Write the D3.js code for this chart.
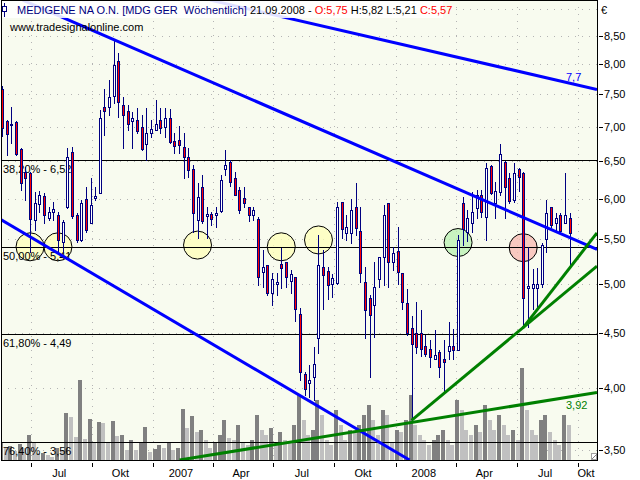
<!DOCTYPE html>
<html><head><meta charset="utf-8">
<script src="https://cdn.jsdelivr.net/npm/d3@7"></script>
<style>
body{margin:0;background:#fff}
svg{display:block}
text{font-family:"Liberation Sans",Arial,sans-serif;font-size:11px}
</style>
</head><body>
<svg id="c" width="640" height="480"></svg>
<script>
// ---------------- DATA (weekly candles, first week 19.05.2006) ----------------
const firstWeek = [2006, 4, 19];
const open  = [7.59,7.08,7.02,7.07,6.67,6.35,6.34,5.73,5.94,6.03,5.75,5.83,5.79,5.47,5.89,6.63,5.79,5.49,5.99,5.69,
               6.01,6.07,7.30,7.30,7.47,8.06,7.33,7.24,7.08,7.10,6.99,6.74,6.90,6.95,7.10,6.99,7.13,6.79,6.80,6.70,
               6.56,6.39,5.73,6.15,5.78,5.80,5.79,5.84,6.39,6.49,6.27,6.11,6.01,5.89,5.79,5.74,5.13,5.20,4.90,5.00,
               5.21,5.24,5.02,5.07,4.68,4.12,4.04,4.09,4.45,5.18,5.14,5.00,5.00,5.96,5.57,5.57,5.89,5.60,5.02,4.85,
               4.77,5.05,5.29,5.94,5.24,5.36,5.12,4.80,4.55,4.50,4.50,4.37,4.35,4.25,4.32,4.25,4.32,4.37,4.34,5.94,
               5.58,5.69,5.89,6.05,5.77,6.43,5.94,6.08,6.49,6.27,5.98,6.39,6.34,4.95,4.96,4.96,4.99,5.50,5.89,5.69,
               5.79,5.69,5.75];
const high  = [7.64,7.10,7.30,7.08,6.69,6.42,6.35,6.08,6.10,6.07,5.89,5.96,5.83,5.73,6.69,6.70,5.82,5.98,6.15,6.27,
               6.15,7.25,7.59,7.73,8.43,8.19,7.46,7.33,7.22,7.28,7.18,7.28,7.10,7.41,7.28,7.28,7.27,6.90,7.01,6.90,
               6.69,6.45,6.20,6.31,5.89,5.83,5.89,6.31,6.66,6.52,6.35,6.15,6.15,5.89,5.89,5.77,5.37,5.20,5.11,5.11,
               5.40,5.24,5.15,5.07,4.74,4.14,4.20,4.36,5.55,5.37,5.18,5.10,5.95,5.96,5.79,5.99,6.20,5.89,5.18,4.88,
               5.24,5.29,5.92,5.94,5.41,5.64,5.12,4.94,4.66,4.81,4.72,4.48,4.43,4.53,4.34,4.43,4.60,4.54,5.55,6.02,
               5.85,6.08,6.11,6.11,6.48,6.45,6.22,6.74,6.50,6.34,6.48,6.40,6.35,5.41,5.16,5.17,5.45,5.98,5.89,5.82,
               5.82,6.34,5.82];
const low   = [6.86,6.59,6.76,6.59,6.11,5.98,5.35,5.61,5.83,5.69,5.73,5.73,5.35,5.35,5.88,5.76,5.47,5.48,5.59,5.69,
               5.98,6.07,6.88,7.18,7.36,7.15,6.69,6.95,6.69,6.90,6.66,6.52,6.85,6.95,6.90,6.85,6.76,6.61,6.61,6.27,
               6.28,5.59,5.51,5.69,5.51,5.67,5.65,5.83,6.31,6.16,6.05,5.82,5.89,5.72,5.73,4.99,4.96,4.88,4.78,4.88,
               4.95,4.96,4.90,4.61,4.07,3.94,3.92,3.90,4.31,4.73,4.84,4.86,5.00,5.51,5.49,5.45,5.55,5.02,4.45,4.09,
               4.46,4.96,4.99,4.96,5.15,5.00,4.73,4.48,3.73,4.31,4.28,4.28,4.18,4.25,4.09,3.96,4.25,4.25,4.34,5.43,
               5.48,5.59,5.75,5.77,5.49,6.06,5.75,6.05,5.75,5.94,5.96,6.10,4.55,4.56,4.73,4.73,4.96,5.35,5.65,5.59,
               5.57,5.69,5.21];
const close = [6.98,6.88,7.04,6.60,6.20,6.27,5.74,5.94,6.05,5.79,5.83,5.87,5.49,5.71,6.56,5.78,5.49,5.94,5.61,5.92,
               6.03,7.13,7.24,7.46,7.99,7.38,7.18,7.04,7.13,6.93,6.67,6.90,6.96,7.04,6.98,7.13,6.77,6.72,6.73,6.56,
               6.38,5.82,6.02,5.72,5.80,5.74,5.82,6.24,6.45,6.22,6.05,5.85,5.94,5.79,5.85,5.07,5.18,4.90,5.05,5.02,
               5.16,5.07,5.10,4.73,4.13,3.99,4.07,4.21,5.20,5.09,4.99,5.06,5.89,5.62,5.64,5.85,5.63,5.12,4.73,4.68,
               4.96,5.29,5.79,5.24,5.34,5.12,4.81,4.50,4.40,4.37,4.35,4.30,4.28,4.29,4.18,4.22,4.37,4.33,5.49,5.62,
               5.75,5.83,6.05,5.83,6.41,6.07,6.10,6.60,6.15,5.97,6.34,6.28,4.85,4.97,5.00,5.00,5.43,5.82,5.67,5.75,
               5.59,5.79,5.57];
const volume = [18,12,14,9,16,12,25,17,7,7,5,3,12,10,47,43,23,80,21,41,
                17,38,37,17,39,24,25,10,20,10,18,33,8,11,15,12,18,10,12,51,
                32,44,28,30,20,12,18,25,40,22,20,35,18,15,20,45,30,25,32,15,
                28,20,18,35,65,40,25,30,60,45,20,15,50,35,20,30,28,35,45,55,
                40,25,50,45,18,30,28,40,65,35,25,20,15,20,25,30,20,15,60,50,
                30,25,35,28,55,40,30,45,35,25,30,20,92,50,30,25,40,45,28,20,
                15,45,35];

const priceTicks = [3.5,4,4.5,5,5.5,6,6.5,7,7.5,8,8.5];
const gridPrices = [3.5,4,4.5,5,5.5,6,6.5,7,7.5,8,8.5,9];
const fibPct   = ["38,20%","50,00%","61,80%","76,40%"];
const fibValue = [6.52,5.41,4.49,3.56];
const quarterStarts = [[2006,6,1],[2006,9,1],[2007,0,1],[2007,3,1],[2007,6,1],[2007,9,1],[2008,0,1],[2008,3,1],[2008,6,1],[2008,9,1],[2009,0,1]];
const quarterLabels = ["Jul","Okt","2007","Apr","Jul","Okt","2008","Apr","Jul","Okt"];

// trend lines: [startDate, startPrice, endDate, endPrice]
const blueLines = [
  [[2007,2,28],9.18,[2008,9,30],7.58],
  [[2006,5,19],9.18,[2008,9,30],5.38],
  [[2006,4,16],5.74,[2008,0,22],3.426]
];
const greenLines = [
  [[2007,1,10],3.426,[2008,9,30],3.959],
  [[2008,0,25],3.73,[2008,9,30],5.19],
  [[2008,6,11],4.55,[2008,9,30],5.573]
];
const lineLabels = [{t:"7,7", c:"#0000ff", p:7.7, dy:-1}, {t:"3,92", c:"#008000", p:3.92, dy:12}];
// marker circles: candle index, price, kind
const circleIdx   = [6,12,42,60,68,98,112];
const circlePrice = [5.41,5.41,5.43,5.41,5.49,5.46,5.40];
const circleKind  = ["y","y","y","y","y","g","r"];

const header = {name:"MEDIGENE NA O.N. [MDG GER\u00a0 Wöchentlich]", date:"21.09.2008", o:"5,75", h:"5,82", l:"5,21", c:"5,57"};

// ---------------- DRAW ----------------
const svg = d3.select("#c");
const L = 1, R = 597, T = 0, B = 460;
const toDate = a => new Date(a[0], a[1], a[2]);
const x = d3.scaleTime().domain([new Date(2006,6,1), new Date(2008,9,1)]).range([30.7, 577.7]);
const y = d3.scaleLog().domain([3.5, 8.5]).range([450, 36]);
const vy = d3.scaleLinear().domain([0, 100]).range([B, B-100]);
const n = open.length;
const wk = toDate(firstWeek);
const dates = d3.range(n).map(i => d3.timeDay.offset(wk, 7*i));
const cx = i => Math.round(x(dates[i]));
const fmt = v => d3.format(".2f")(v).replace(".", ",");

svg.append("rect").attr("width",640).attr("height",480).attr("fill","#fff");
svg.append("defs").append("clipPath").attr("id","pc")
  .append("rect").attr("x",L+1).attr("y",T+1).attr("width",R-L-1).attr("height",B-T-1);
svg.append("rect").attr("x",L).attr("y",T).attr("width",R-L).attr("height",B-T).attr("fill","#f8fbef");

const plot = svg.append("g").attr("clip-path","url(#pc)");

// grid
plot.selectAll("line.hg").data(gridPrices).join("line")
  .attr("x1",L).attr("x2",R).attr("y1",d=>Math.round(y(d))+0.5).attr("y2",d=>Math.round(y(d))+0.5)
  .attr("stroke","#b4b4b4").attr("stroke-dasharray","1,6");
plot.selectAll("line.vg").data(quarterStarts.slice(0,10)).join("line")
  .attr("x1",d=>Math.round(x(toDate(d)))+0.5).attr("x2",d=>Math.round(x(toDate(d)))+0.5)
  .attr("y1",T).attr("y2",B).attr("stroke","#b4b4b4").attr("stroke-dasharray","1,6");

// volume
plot.selectAll("rect.vol").data(d3.range(n)).join("rect")
  .attr("x",i=>cx(i)-3).attr("width",4)
  .attr("y",i=>vy(volume[i])).attr("height",i=>B-vy(volume[i]))
  .attr("fill",i=> (i>0 && volume[i] < volume[i-1]) ? "#c0c0c0" : "#808080")
  .attr("shape-rendering","crispEdges");

// circles
const cFill = {y:"#ffffb8", g:"#b8f0b0", r:"#f8b8b0"};
plot.selectAll("circle.m").data(d3.range(circleIdx.length)).join("circle")
  .attr("cx",k=>x(dates[circleIdx[k]])).attr("cy",k=>y(circlePrice[k])).attr("r",14)
  .attr("fill",k=>cFill[circleKind[k]]).attr("fill-opacity",0.75)
  .attr("stroke","#000").attr("stroke-width",1);

// fib lines
plot.selectAll("line.fib").data(fibValue).join("line")
  .attr("x1",L).attr("x2",R).attr("y1",d=>Math.round(y(d))+0.5).attr("y2",d=>Math.round(y(d))+0.5)
  .attr("stroke","#000").attr("shape-rendering","crispEdges");
plot.selectAll("text.fib").data(d3.range(fibValue.length)).join("text")
  .attr("x",3).attr("y",k=>Math.round(y(fibValue[k]))+13)
  .attr("fill","#000").text(k=>fibPct[k]+" - "+fmt(fibValue[k]));

// candles
plot.selectAll("line.wick").data(d3.range(n)).join("line")
  .attr("x1",i=>cx(i)+0.5).attr("x2",i=>cx(i)+0.5)
  .attr("y1",i=>Math.round(y(high[i]))).attr("y2",i=>Math.round(y(low[i]))+1)
  .attr("stroke","#000080").attr("shape-rendering","crispEdges");
plot.selectAll("rect.body").data(d3.range(n)).join("rect")
  .attr("x",i=>cx(i)-0.5).attr("width",2)
  .attr("y",i=>Math.round(y(Math.max(open[i],close[i])))+0.5)
  .attr("height",i=>Math.max(1,Math.round(Math.abs(y(open[i])-y(close[i])))))
  .attr("fill",i=>close[i]<open[i] ? "#ff0000" : "#ffffff")
  .attr("stroke","#000080").attr("shape-rendering","crispEdges");

// trend lines
function drawLines(arr, col){
  plot.selectAll(null).data(arr).join("line")
    .attr("x1",d=>x(toDate(d[0]))).attr("y1",d=>y(d[1]))
    .attr("x2",d=>x(toDate(d[2]))).attr("y2",d=>y(d[3]))
    .attr("stroke",col).attr("stroke-width",3);
}
drawLines(blueLines,"#0000ff");
drawLines(greenLines,"#008000");
plot.selectAll("text.ll").data(lineLabels).join("text")
  .attr("x",566).attr("y",d=>y(d.p)+d.dy).attr("fill",d=>d.c).text(d=>d.t);

// watermark
svg.append("text").attr("x",10).attr("y",31).attr("fill","#000").text("www.tradesignalonline.com");

// header
svg.append("rect").attr("x",2).attr("y",1).attr("width",441).attr("height",17).attr("fill","#fff").attr("fill-opacity",0.88);
const hg = svg.append("g");
hg.append("line").attr("x1",4.5).attr("x2",4.5).attr("y1",3).attr("y2",17).attr("stroke","#000080");
hg.append("rect").attr("x",2.5).attr("y",6.5).attr("width",4).attr("height",5).attr("fill","#fff").attr("stroke","#000080");
const ht = hg.append("text").attr("x",17).attr("y",14).attr("xml:space","preserve");
ht.append("tspan").attr("fill","#000080").text(header.name);
ht.append("tspan").attr("fill","#000").text("\u00a0"+header.date+" - ");
ht.append("tspan").attr("fill","#ff0000").text("O:"+header.o);
ht.append("tspan").attr("fill","#000").text("\u00a0H:"+header.h+" L:"+header.l+"\u00a0");
ht.append("tspan").attr("fill","#ff0000").text("C:"+header.c);

// frame
svg.append("rect").attr("x",L+0.5).attr("y",T+0.5).attr("width",R-L).attr("height",B-T)
  .attr("fill","none").attr("stroke","#000").attr("shape-rendering","crispEdges");
// corner glyph
svg.append("rect").attr("x",591.5).attr("y",453.5).attr("width",5).attr("height",6).attr("fill","#fff").attr("stroke","#a0a0a0");
svg.append("line").attr("x1",592).attr("y1",459).attr("x2",597).attr("y2",454).attr("stroke","#808080");

// right axis
svg.append("text").attr("x",601).attr("y",14).attr("fill","#000").text("€");
svg.selectAll("line.yt").data(priceTicks).join("line")
  .attr("x1",599).attr("x2",603).attr("y1",d=>Math.round(y(d))+0.5).attr("y2",d=>Math.round(y(d))+0.5)
  .attr("stroke","#000").attr("shape-rendering","crispEdges");
svg.selectAll("text.yt").data(priceTicks).join("text")
  .attr("x",604).attr("y",d=>y(d)+4).attr("fill","#000").text(d=>fmt(d));

// bottom axis
svg.selectAll("line.xt").data(quarterStarts.slice(0,10)).join("line")
  .attr("x1",d=>Math.round(x(toDate(d)))+0.5).attr("x2",d=>Math.round(x(toDate(d)))+0.5)
  .attr("y1",463).attr("y2",467).attr("stroke","#000").attr("shape-rendering","crispEdges");
svg.selectAll("text.xt").data(d3.range(quarterLabels.length)).join("text")
  .attr("x",k=>Math.min(586,(x(toDate(quarterStarts[k]))+x(toDate(quarterStarts[k+1])))/2-2))
  .attr("y",477).attr("text-anchor","middle").attr("fill","#000").text(k=>quarterLabels[k]);
</script>
</body></html>
